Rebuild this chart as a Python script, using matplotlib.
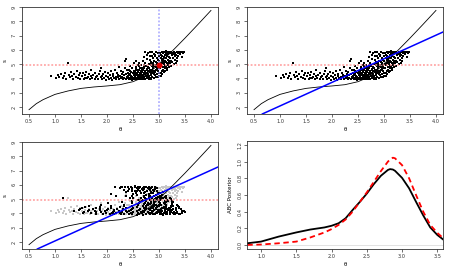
import numpy as np
import matplotlib
matplotlib.use("Agg")
import matplotlib.pyplot as plt

# simulated (theta, s) pairs
theta_sim = [
    0.92, 1.02, 1.05, 1.08, 1.12, 1.15, 1.18, 1.20, 1.22, 1.25, 1.26, 1.28, 1.30, 1.33, 1.35, 1.37, 1.40, 1.42, 1.44, 1.46, 1.48, 1.49,
    1.51, 1.53, 1.55, 1.57, 1.58, 1.60, 1.62, 1.63, 1.65, 1.67, 1.69, 1.70, 1.72, 1.74, 1.76, 1.77, 1.79, 1.81, 1.83, 1.85, 1.86, 1.88, 1.90, 1.91, 1.93, 1.95, 1.96, 1.98, 1.99, 1.89,
    2.01, 2.02, 2.04, 2.05, 2.07, 2.08, 2.10, 2.11, 2.12, 2.14, 2.15, 2.17, 2.18, 2.19, 2.21, 2.22, 2.23, 2.24, 2.25, 2.26, 2.27, 2.28, 2.29, 2.30, 2.31, 2.32, 2.33, 2.34, 2.35, 2.36, 2.37, 2.38, 2.39, 2.40, 2.40, 2.37,
    2.41, 2.42, 2.43, 2.44, 2.45, 2.45, 2.46, 2.47, 2.48, 2.48, 2.49, 2.50, 2.50, 2.51, 2.52, 2.52, 2.53, 2.54, 2.54, 2.55, 2.56, 2.56, 2.57, 2.58, 2.58, 2.59, 2.59, 2.60, 2.60, 2.43, 2.47, 2.51, 2.55, 2.57, 2.53, 2.49, 2.44, 2.58, 2.46, 2.55,
    2.61, 2.61, 2.62, 2.62, 2.63, 2.63, 2.64, 2.64, 2.65, 2.65, 2.66, 2.66, 2.67, 2.67, 2.68, 2.68, 2.69, 2.69, 2.70, 2.70, 2.71, 2.71, 2.72, 2.72, 2.73, 2.73, 2.74, 2.74, 2.75, 2.75, 2.76, 2.76, 2.77, 2.77, 2.78, 2.78, 2.79, 2.79, 2.80, 2.80, 2.62, 2.65, 2.68, 2.71, 2.74, 2.77, 2.66, 2.72, 2.79, 2.63, 2.74, 2.76, 2.78, 2.72,
    2.81, 2.81, 2.82, 2.82, 2.83, 2.83, 2.84, 2.84, 2.85, 2.85, 2.86, 2.86, 2.87, 2.87, 2.88, 2.88, 2.89, 2.89, 2.90, 2.90, 2.91, 2.91, 2.92, 2.92, 2.93, 2.93, 2.94, 2.94, 2.95, 2.95, 2.96, 2.96, 2.97, 2.97, 2.98, 2.98, 2.99, 2.99, 3.00, 3.00, 2.82, 2.84, 2.86, 2.88, 2.90, 2.92, 2.94, 2.96, 2.98, 2.83, 2.87, 2.91, 2.95, 2.99, 2.85,
    3.01, 3.01, 3.02, 3.02, 3.03, 3.03, 3.04, 3.04, 3.05, 3.05, 3.06, 3.06, 3.07, 3.07, 3.08, 3.08, 3.09, 3.09, 3.10, 3.10, 3.11, 3.11, 3.12, 3.12, 3.13, 3.13, 3.14, 3.14, 3.15, 3.15, 3.16, 3.16, 3.17, 3.17, 3.18, 3.18, 3.19, 3.19, 3.20, 3.20, 3.02, 3.04, 3.06, 3.08, 3.10, 3.12, 3.14, 3.16, 3.18, 3.05,
    3.21, 3.22, 3.22, 3.23, 3.24, 3.24, 3.25, 3.26, 3.26, 3.27, 3.28, 3.28, 3.29, 3.30, 3.30, 3.31, 3.32, 3.33, 3.34, 3.35, 3.36, 3.37, 3.38, 3.40, 3.42, 3.44, 3.45, 3.47, 3.49, 3.35,
]
s_sim = [
    4.18, 4.05, 4.22, 4.12, 4.30, 4.02, 4.15, 4.38, 3.98, 5.06, 4.25, 4.08, 4.45, 4.18, 3.96, 4.32, 4.10, 4.52, 4.03, 4.24, 4.40, 3.98,
    4.15, 4.35, 3.95, 4.05, 4.22, 4.48, 4.00, 4.12, 4.30, 3.93, 4.18, 4.62, 4.05, 4.26, 3.97, 4.40, 4.10, 4.20, 3.94, 4.34, 4.55, 4.08, 4.15, 3.98, 4.28, 4.05, 4.42, 3.92, 4.20, 4.70,
    4.10, 4.35, 3.95, 4.22, 4.05, 4.50, 3.92, 4.15, 4.30, 4.02, 4.62, 4.12, 3.96, 4.40, 4.08, 4.25, 4.80, 3.94, 4.18, 4.55, 4.02, 4.33, 4.10, 3.93, 4.46, 4.22, 4.05, 5.20, 4.70, 3.97, 4.28, 4.12, 4.58, 4.00, 4.38, 5.38,
    4.15, 4.62, 3.95, 4.30, 4.05, 4.85, 4.20, 4.45, 3.92, 4.12, 4.70, 4.02, 4.35, 4.25, 5.05, 3.98, 4.55, 4.10, 4.40, 3.94, 4.22, 4.78, 4.05, 4.60, 4.30, 3.97, 4.15, 4.48, 4.92, 4.25, 4.00, 4.52, 4.65, 4.38, 4.18, 4.08, 4.50, 4.02, 3.96, 5.20,
    4.05, 4.60, 4.25, 5.10, 3.95, 4.40, 4.75, 4.12, 4.52, 3.98, 4.30, 4.95, 4.18, 4.65, 4.02, 4.45, 5.25, 4.22, 3.93, 4.58, 4.35, 4.85, 4.08, 4.70, 4.28, 5.05, 3.97, 4.50, 4.15, 4.90, 4.40, 4.62, 4.02, 5.35, 4.25, 4.80, 4.10, 4.55, 3.95, 5.00, 4.85, 4.08, 4.72, 4.00, 4.38, 4.68, 4.50, 4.95, 4.32, 4.20, 5.88, 5.62, 5.80, 5.50,
    4.20, 4.75, 5.30, 4.05, 4.48, 5.60, 4.30, 4.92, 3.98, 5.15, 4.62, 5.85, 4.12, 4.85, 5.45, 4.38, 4.70, 5.05, 4.02, 5.70, 4.55, 5.25, 4.25, 4.95, 5.55, 4.42, 4.80, 5.88, 4.10, 5.15, 4.65, 5.40, 4.32, 5.00, 5.75, 4.50, 4.88, 5.30, 4.18, 5.60, 4.60, 5.10, 4.45, 4.95, 4.30, 5.65, 4.58, 5.05, 4.72, 5.85, 5.55, 4.88, 5.82, 4.08, 4.25,
    4.40, 5.20, 5.80, 4.75, 4.15, 5.45, 4.95, 5.65, 4.55, 5.88, 5.10, 4.30, 5.35, 4.80, 5.75, 4.62, 5.00, 5.50, 4.45, 5.85, 5.25, 4.90, 5.62, 4.70, 5.15, 5.90, 4.85, 5.40, 5.70, 4.60, 5.05, 5.55, 5.82, 4.95, 5.30, 5.68, 4.78, 5.88, 5.20, 5.50, 5.00, 4.35, 5.60, 5.20, 5.05, 4.50, 5.78, 4.75, 5.10, 5.30,
    5.75, 5.05, 5.45, 5.88, 5.25, 4.90, 5.62, 5.80, 5.15, 5.40, 5.70, 5.00, 5.85, 5.55, 5.30, 5.78, 5.10, 5.65, 5.88, 5.45, 5.75, 5.60, 5.85, 5.70, 5.82, 5.50, 5.88, 5.75, 5.85, 5.25,
]

# model curve s(theta)
curve_theta = [0.5, 0.64, 0.77, 0.9, 1.0, 1.25, 1.5, 1.75, 2.0, 2.25, 2.5, 2.65, 2.76, 2.9, 3.0, 3.1, 3.2, 3.3, 3.4, 3.5, 3.75, 4.0]
curve_s = [1.81, 2.23, 2.51, 2.72, 2.88, 3.12, 3.30, 3.40, 3.47, 3.56, 3.77, 4.00, 4.28, 4.68, 5.02, 5.37, 5.72, 6.08, 6.45, 6.82, 7.78, 8.76]

s_obs = 4.91
theta_true = 3.0
reg_intercept = 0.418
reg_slope = 1.652

# posterior densities
post_theta = [0.806, 1.0, 1.25, 1.5, 1.7, 1.9, 2.0, 2.1, 2.2, 2.3, 2.4, 2.5, 2.6, 2.7, 2.8, 2.83, 2.87, 2.9, 3.0, 3.1, 3.2, 3.3, 3.4, 3.5, 3.585]
post_rej = [0.02, 0.04, 0.10, 0.15, 0.185, 0.21, 0.23, 0.26, 0.32, 0.42, 0.515, 0.616, 0.73, 0.83, 0.90, 0.91, 0.905, 0.89, 0.805, 0.68, 0.515, 0.355, 0.21, 0.12, 0.064]
post_adj = [0.0, 0.005, 0.02, 0.04, 0.09, 0.15, 0.19, 0.24, 0.305, 0.40, 0.515, 0.63, 0.757, 0.886, 1.0, 1.025, 1.047, 1.04, 0.958, 0.80, 0.596, 0.40, 0.24, 0.145, 0.08]

theta_sim = np.array(theta_sim)
s_sim = np.array(s_sim)
# regression-adjusted theta
theta_adj = theta_sim - (s_sim - s_obs) / reg_slope

s_ticks = [2, 3, 4, 5, 6, 7, 8, 9]
theta_ticks = [0.5, 1.0, 1.5, 2.0, 2.5, 3.0, 3.5, 4.0]

red_dot = "#ff9a9a"
blue_dot = "#a6a6ff"


def r_style(ax):
    for sp in ax.spines.values():
        sp.set_linewidth(0.6)
        sp.set_color("#333333")
    ax.tick_params(labelsize=3.6, length=2.2, width=0.5, pad=1.5, colors="#333333")
    for lab in ax.get_yticklabels():
        lab.set_rotation(90)
        lab.set_va("center")


def scatter_panel(ax):
    ax.set_xlim(0.365, 4.135)
    ax.set_ylim(1.51, 9.0)
    ax.set_xticks(theta_ticks)
    ax.set_xticklabels(["%.1f" % t for t in theta_ticks])
    ax.set_yticks(s_ticks)
    ax.set_xlabel("θ", fontsize=4, labelpad=2)
    ax.set_ylabel("s", fontsize=4, labelpad=3)
    r_style(ax)


fig = plt.figure(figsize=(4.5, 2.7), dpi=100)

ax1 = fig.add_axes([0.0489, 0.578, 0.4355, 0.396])
ax1.scatter(theta_sim, s_sim, s=2.0, marker="s", color="black", linewidths=0)
ax1.plot(curve_theta, curve_s, color="black", lw=0.6)
ax1.axhline(s_obs, color=red_dot, lw=1.1, ls=(0, (1.2, 1.2)))
ax1.axvline(theta_true, color=blue_dot, lw=1.1, ls=(0, (1.2, 1.2)))
ax1.plot([theta_true], [s_obs], "o", color="#e00000", ms=3.2)
scatter_panel(ax1)

ax2 = fig.add_axes([0.5489, 0.578, 0.4355, 0.396])
ax2.scatter(theta_sim, s_sim, s=2.0, marker="s", color="black", linewidths=0)
ax2.plot(curve_theta, curve_s, color="black", lw=0.6)
ax2.axhline(s_obs, color=red_dot, lw=1.1, ls=(0, (1.2, 1.2)))
ax2.axline((0, reg_intercept), slope=reg_slope, color="#0000ff", lw=1.1)
scatter_panel(ax2)

ax3 = fig.add_axes([0.0489, 0.078, 0.4355, 0.396])
ax3.scatter(theta_sim, s_sim, s=2.0, marker="s", color="#c8c8c8", linewidths=0)
ax3.scatter(theta_adj, s_sim, s=2.0, marker="s", color="black", linewidths=0)
ax3.plot(curve_theta, curve_s, color="black", lw=0.6)
ax3.axhline(s_obs, color=red_dot, lw=1.1, ls=(0, (1.2, 1.2)))
ax3.axline((0, reg_intercept), slope=reg_slope, color="#0000ff", lw=1.1)
scatter_panel(ax3)

ax4 = fig.add_axes([0.5496, 0.078, 0.4355, 0.4])
ax4.axhline(0, color="#dddddd", lw=0.6)
ax4.plot(post_theta, post_rej, color="black", lw=1.3)
ax4.plot(post_theta, post_adj, color="#ff0000", lw=1.3, ls=(0, (3, 2)))
ax4.set_xlim(0.806, 3.585)
ax4.set_ylim(-0.048, 1.248)
ax4.set_xticks([1.0, 1.5, 2.0, 2.5, 3.0, 3.5])
ax4.set_xticklabels(["1.0", "1.5", "2.0", "2.5", "3.0", "3.5"])
ax4.set_yticks([0.0, 0.2, 0.4, 0.6, 0.8, 1.0, 1.2])
ax4.set_yticklabels(["0.0", "0.2", "0.4", "0.6", "0.8", "1.0", "1.2"])
ax4.set_xlabel("θ", fontsize=4, labelpad=2)
ax4.set_ylabel("ABC Posterior", fontsize=4, labelpad=3)
r_style(ax4)

fig.savefig("out.png", dpi=100)
